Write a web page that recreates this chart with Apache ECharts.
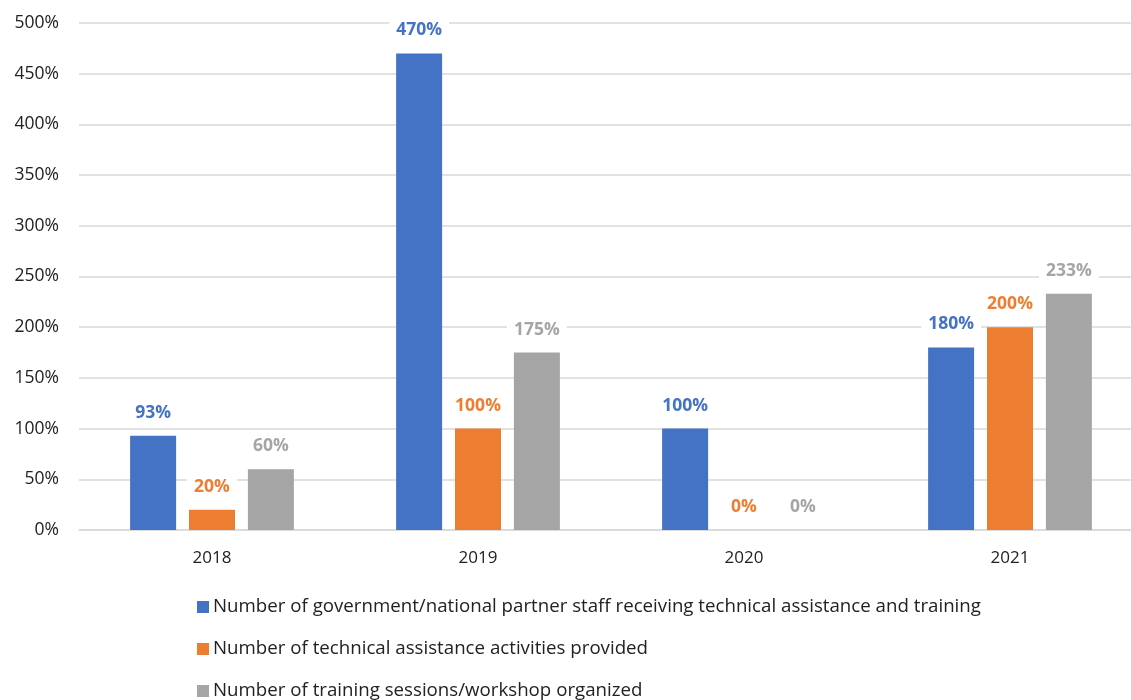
<!DOCTYPE html>
<html>
<head>
<meta charset="utf-8">
<script src="https://cdn.jsdelivr.net/npm/echarts@6/dist/echarts.min.js"></script>
<style>
  html, body { margin: 0; padding: 0; background: #fff; overflow: hidden; }
  /* canvas is slightly wider than the window so the plot runs off the right edge */
  #chart { width: 1143px; height: 700px; }
</style>
</head>
<body>
<div id="chart"></div>
<script>
// Years on the category axis
const years = ['2018', '2019', '2020', '2021'];

// Achievement rates (%) per indicator
const staffTrained = [93, 470, 100, 180];
const taActivities = [20, 100, 0, 200];
const trainingSessions = [60, 175, 0, 233];

const seriesNames = [
  'Number of government/national partner staff receiving technical assistance and training',
  'Number of technical assistance activities provided',
  'Number of training sessions/workshop organized'
];
const colors = ['#4472C4', '#ED7D31', '#A5A5A5'];

const FONT = '"Open Sans", "Liberation Sans", sans-serif';

function barSeries(name, data, color) {
  return {
    name: name,
    type: 'bar',
    data: data,
    barWidth: 46,
    barGap: '28%',
    itemStyle: { color: color },
    label: {
      show: true,
      position: 'top',
      distance: 12,
      formatter: '{c}%',
      color: color,
      fontWeight: 'bold',
      fontSize: 17.5,
      fontFamily: FONT,
      backgroundColor: '#fff',
      padding: [2, 7]
    }
  };
}

const chart = echarts.init(document.getElementById('chart'));
chart.setOption({
  animation: false,
  color: colors,
  grid: { left: 79, right: 0, top: 23, bottom: 170, containLabel: false },
  xAxis: {
    type: 'category',
    data: years,
    axisLine: { show: true, lineStyle: { color: '#d9d9d9', width: 1.5 } },
    axisTick: { show: false },
    axisLabel: { color: '#222', fontSize: 17, fontFamily: FONT, margin: 20 }
  },
  yAxis: {
    type: 'value',
    min: 0,
    max: 500,
    interval: 50,
    axisLine: { show: false },
    axisTick: { show: false },
    splitLine: { lineStyle: { color: '#d9d9d9', width: 1.5 } },
    axisLabel: { formatter: '{value}%', color: '#222', fontSize: 17.5, fontFamily: FONT, margin: 20 }
  },
  legend: {
    orient: 'vertical',
    left: 197,
    top: 597,
    height: 160,
    padding: 0,
    itemWidth: 12,
    itemHeight: 12,
    itemGap: 22,
    icon: 'rect',
    textStyle: { color: '#222', fontSize: 18.7, fontFamily: FONT, lineHeight: 20, padding: [0, 0, 0, -1] },
    data: seriesNames
  },
  series: [
    barSeries(seriesNames[0], staffTrained, colors[0]),
    barSeries(seriesNames[1], taActivities, colors[1]),
    barSeries(seriesNames[2], trainingSessions, colors[2])
  ]
});
</script>
</body>
</html>
